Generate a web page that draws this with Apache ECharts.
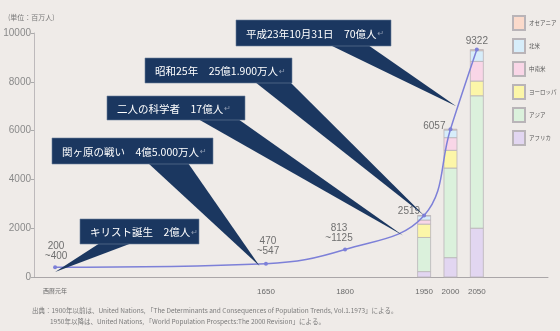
<!DOCTYPE html>
<html>
<head>
<meta charset="utf-8">
<script src="https://cdn.jsdelivr.net/npm/echarts@6/dist/echarts.min.js"></script>
<style>
  html, body { margin: 0; padding: 0; background: #efebe8; }
  #chart { width: 560px; height: 331px; }
</style>
</head>
<body>
<div id="chart"></div>
<script>
// World population, millions
const years = [1, 1650, 1800, 1950, 2000, 2050];
const yearLabels = ['西暦元年', '1650', '1800', '1950', '2000', '2050'];
const worldPop = [400, 547, 1125, 2519, 6057, 9322];
const worldLabels = ['200\n~400', '470\n~547', '813\n~1125', '2519', '6057', '9322'];

// Regional breakdown for the stacked bars (bottom to top)
const barYears = [1950, 2000, 2050];
const regionNames = ['アフリカ', 'アジア', 'ヨーロッパ', '中南米', '北米', 'オセアニア'];
const africa = [221, 794, 2000];
const asia = [1399, 3672, 5428];
const europe = [548, 727, 603];
const latinAmerica = [167, 519, 806];
const northAmerica = [172, 314, 438];
const oceania = [12, 31, 47];

// Historical events pointing at the curve
const calloutTexts = [
  'キリスト誕生　2億人',
  '関ヶ原の戦い　4億5.000万人',
  '二人の科学者　17億人',
  '昭和25年　25億1.900万人',
  '平成23年10月31日　70億人'
];
const calloutYears = [1, 1600, 1910, 1950, 2011];
const calloutValues = [200, 450, 1700, 2519, 7000];

const yTicks = [0, 2000, 4000, 6000, 8000, 10000];

// ---- presentation ----
const regionColors = ['#e2d6f1', '#dbf1dc', '#fcf6a8', '#f9d6e7', '#d7edfa', '#fbdacb'];
const navy = '#1b3760';
const lineColor = '#7d80d8';
const barPixelWidth = 13;

// Years before 1650 are drawn on a compressed stretch of the axis
function toAxis(year) {
  return year >= 1650 ? year : 1650 - (1650 - year) * 400 / 1649;
}

const labelLayout = [
  { position: 'top', distance: 4, offset: [1, 0] },
  { position: 'top', distance: 5, offset: [2, 0] },
  { position: 'top', distance: 4, offset: [-6, 0] },
  { position: 'left', distance: 2, offset: [0, -4] },
  { position: 'left', distance: 3, offset: [0, -3] },
  { position: 'top', distance: 1, offset: [0, 0] }
];

const calloutBoxes = [
  { x: 80, y: 219, w: 119, h: 25, base: [100, 132] },
  { x: 52, y: 138, w: 161, h: 26, base: [148, 188] },
  { x: 107, y: 96, w: 138, h: 24, base: [198, 238] },
  { x: 145, y: 58, w: 147, h: 25, base: [255, 290] },
  { x: 236, y: 20, w: 155, h: 26, base: [330, 368] }
];

const regionData = [africa, asia, europe, latinAmerica, northAmerica, oceania];

// Each region segment spans [running total, running total + value]
const barSeries = regionNames.map((name, r) => ({
  name: name,
  type: 'custom',
  z: 2,
  itemStyle: { color: regionColors[r], borderColor: '#b9b4b8', borderWidth: 0.8 },
  data: barYears.map((y, i) => {
    let lower = 0;
    for (let k = 0; k < r; k++) lower += regionData[k][i];
    return [toAxis(y), lower, lower + regionData[r][i]];
  }),
  renderItem: function (params, api) {
    const top = api.coord([api.value(0), api.value(2)]);
    const bottom = api.coord([api.value(0), api.value(1)]);
    return {
      type: 'rect',
      shape: { x: top[0] - barPixelWidth / 2, y: top[1], width: barPixelWidth, height: bottom[1] - top[1] },
      style: { fill: regionColors[r], stroke: '#b9b4b8', lineWidth: 0.8 }
    };
  },
  encode: { x: 0, y: [1, 2] }
}));

const chart = echarts.init(document.getElementById('chart'), null, { renderer: 'canvas' });

chart.setOption({
  backgroundColor: '#efebe8',
  animation: false,
  textStyle: { fontFamily: '"Noto Sans CJK JP", "Liberation Sans", sans-serif' },
  title: {
    text: '(単位：百万人)',
    left: 3, top: 9,
    textStyle: { fontSize: 7, color: '#7a7a7a', fontWeight: 'normal' }
  },
  legend: {
    orient: 'vertical',
    left: 507, top: 10,
    itemWidth: 12, itemHeight: 14, itemGap: 7,
    icon: 'rect',
    data: ['オセアニア', '北米', '中南米', 'ヨーロッパ', 'アジア', 'アフリカ'],
    textStyle: { fontSize: 5.5, color: '#555', padding: [0, 0, 0, -1] }
  },
  grid: { left: 34, right: 12, top: 33, bottom: 54 },
  xAxis: {
    type: 'value',
    min: 1210, max: 2185,
    splitLine: { show: false },
    axisTick: { show: false },
    axisLine: { lineStyle: { color: '#aaa6a8', width: 1 } },
    axisLabel: {
      customValues: years.map(toAxis),
      margin: 11,
      color: '#6a6a6a',
      fontFamily: '"Liberation Sans", sans-serif',
      formatter: function (v) {
        const i = years.map(toAxis).findIndex(t => Math.abs(t - v) < 0.5);
        return i < 0 ? '' : (i === 0 ? '{s|' + yearLabels[i] + '}' : yearLabels[i]);
      },
      fontSize: 8,
      rich: { s: { fontSize: 6, color: '#6a6a6a', fontFamily: '"Noto Sans CJK JP"' } }
    }
  },
  yAxis: {
    type: 'value',
    min: 0, max: 10000, interval: 2000,
    splitLine: { show: false },
    axisLine: { show: true, lineStyle: { color: '#bdb9bb', width: 1 } },
    axisTick: { show: true, length: 3, lineStyle: { color: '#aaa' } },
    axisLabel: {
      color: '#8a8a8a', fontSize: 10, margin: 3,
      fontFamily: '"Liberation Sans", sans-serif',
      formatter: v => yTicks.indexOf(v) >= 0 ? String(v) : ''
    }
  },
  series: barSeries.concat([
    {
      name: '世界人口',
      type: 'line',
      smooth: 0.4,
      z: 4,
      symbol: 'circle',
      symbolSize: 4,
      lineStyle: { color: lineColor, width: 1.5 },
      itemStyle: { color: lineColor },
      label: {
        show: true, color: '#6f6f6f', fontSize: 10, lineHeight: 10,
        fontFamily: '"Liberation Sans", sans-serif', align: 'center'
      },
      data: worldPop.map((v, i) => ({
        value: [toAxis(years[i]), v],
        label: Object.assign({ formatter: worldLabels[i] }, labelLayout[i],
          labelLayout[i].position === 'left' ? { align: 'right' } : {})
      }))
    },
    {
      name: 'callouts',
      type: 'custom',
      z: 6,
      clip: false,
      silent: true,
      data: calloutYears.map((y, i) => [toAxis(y), calloutValues[i]]),
      renderItem: function (params, api) {
        const i = params.dataIndex;
        const b = calloutBoxes[i];
        const tip = api.coord([api.value(0), api.value(1)]);
        return {
          type: 'group',
          children: [
            {
              type: 'polygon',
              shape: { points: [[b.base[0], b.y + b.h - 1], [b.base[1], b.y + b.h - 1], tip] },
              style: { fill: navy }
            },
            {
              type: 'rect',
              shape: { x: b.x, y: b.y, width: b.w, height: b.h },
              style: { fill: navy, stroke: '#6d7f9c', lineWidth: 0.6 }
            },
            {
              type: 'text',
              x: b.x + 10, y: b.y + b.h / 2 + 1,
              style: {
                text: '{t|' + calloutTexts[i] + '}{r|↵}',
                verticalAlign: 'middle',
                rich: {
                  t: { fill: '#ffffff', fontSize: 10.5, fontFamily: '"Noto Sans CJK JP"' },
                  r: { fill: '#8e9bb2', fontSize: 8, fontFamily: '"DejaVu Sans"', padding: [0, 0, 0, 1] }
                }
              }
            }
          ]
        };
      }
    }
  ]),
  graphic: [
    {
      type: 'text', left: 32, top: 307,
      style: {
        text: '出典：1900年以前は、United Nations, 「The Determinants and Consequences of Population Trends, Vol.1.1973」による。',
        fill: '#7a7a7a', font: '6.5px "Noto Sans CJK JP"'
      }
    },
    {
      type: 'text', left: 50, top: 318,
      style: {
        text: '1950年以降は、United Nations, 「World Population Prospects:The 2000 Revision」による。',
        fill: '#7a7a7a', font: '6.5px "Noto Sans CJK JP"'
      }
    }
  ]
});
</script>
</body>
</html>
